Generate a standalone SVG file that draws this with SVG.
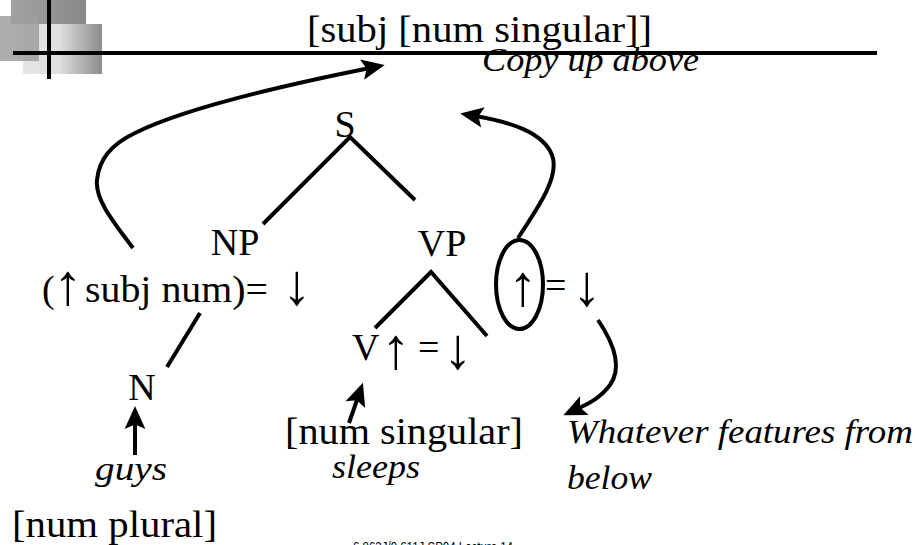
<svg xmlns="http://www.w3.org/2000/svg" width="923" height="545" viewBox="0 0 923 545">
<style>
.t{font-family:"Liberation Serif","Times New Roman",serif;font-size:38px;fill:#000}
.a{font-family:"Liberation Serif","Times New Roman",serif;font-size:58px;fill:#000;text-anchor:middle}
.i{font-family:"Liberation Serif","Times New Roman",serif;font-size:34px;font-style:italic;fill:#000}
.ln{stroke:#000;stroke-width:4;fill:none}
.ar{stroke:#000;stroke-width:4;fill:none;marker-end:url(#ah)}
.f{font-family:"Liberation Sans",Arial,sans-serif;font-size:14px;fill:#000}
</style>
<defs>
<marker id="ah" markerUnits="userSpaceOnUse" markerWidth="30" markerHeight="30" viewBox="-10 -12 26 24" refX="0" refY="0" orient="auto">
<path d="M13,0 L-7,-9 L-3,0 L-7,9 Z" fill="#000"/>
</marker>
<linearGradient id="gDark" x1="0" y1="0" x2="1" y2="0">
<stop offset="0" stop-color="#a2a2a2"/><stop offset="1" stop-color="#888"/>
</linearGradient>
<linearGradient id="gLight" x1="0" y1="0" x2="1" y2="0">
<stop offset="0" stop-color="#e4e4e4"/><stop offset="0.45" stop-color="#e0e0e0"/><stop offset="1" stop-color="#8c8c8c"/>
</linearGradient>
</defs>
<g id="logo">
<rect x="11" y="0" width="75" height="24" fill="url(#gDark)"/>
<rect x="23" y="24" width="79" height="50" fill="url(#gLight)"/>
<rect x="0" y="16" width="39" height="45" fill="#9e9e9e" fill-opacity="0.85"/>
<rect x="47" y="0" width="4" height="79" fill="#000"/>
<rect x="13" y="51" width="864" height="4" fill="#000"/>
</g>
<g id="title"><text class="t" x="307" y="42" font-size="40" textLength="345" lengthAdjust="spacingAndGlyphs">[subj [num singular]]</text></g>
<g id="copy"><text class="i" x="482" y="71" textLength="217" lengthAdjust="spacingAndGlyphs">Copy up above</text></g>
<g id="S"><text class="t" x="345" y="137" text-anchor="middle">S</text></g>
<g id="NP"><text class="t" x="235" y="255" text-anchor="middle">NP</text></g>
<g id="VP"><text class="t" x="442" y="256" text-anchor="middle">VP</text></g>
<g id="NPeq">
<text class="t" x="42" y="302">(</text>
<text class="a" x="68" y="304">↑</text>
<text class="t" x="85" y="302" textLength="183" lengthAdjust="spacingAndGlyphs">subj num)=</text>
<text class="a" x="297" y="304">↓</text>
</g>
<g id="V">
<text class="t" x="352" y="360">V</text>
<text class="a" x="396" y="368">↑</text>
<text class="t" x="418" y="360">=</text>
<text class="a" x="458" y="368">↓</text>
</g>
<g id="VPeq">
<ellipse cx="519.5" cy="284.5" rx="23.5" ry="44.5" class="ln"/>
<text class="a" x="523" y="305">↑</text>
<text class="t" x="545" y="298">=</text>
<text class="a" x="587" y="305">↓</text>
</g>
<g id="N"><text class="t" x="142" y="400" text-anchor="middle">N</text></g>
<g id="guys"><text class="i" x="95" y="480" font-size="36" textLength="72" lengthAdjust="spacingAndGlyphs">guys</text></g>
<g id="plural"><text class="t" x="12" y="537" textLength="205" lengthAdjust="spacingAndGlyphs">[num plural]</text></g>
<g id="singular"><text class="t" x="285" y="444" textLength="238" lengthAdjust="spacingAndGlyphs">[num singular]</text></g>
<g id="sleeps"><text class="i" x="332" y="478" textLength="88" lengthAdjust="spacingAndGlyphs">sleeps</text></g>
<g id="whatever">
<text class="i" x="567" y="443" textLength="346" lengthAdjust="spacingAndGlyphs">Whatever features from</text>
<text class="i" x="567" y="489" textLength="85" lengthAdjust="spacingAndGlyphs">below</text>
</g>
<g id="footer"><text class="f" x="353" y="552" textLength="160" lengthAdjust="spacingAndGlyphs">6.863J/9.611J SP04 Lecture 14</text></g>
<g id="connectors">
<path class="ln" d="M263,224 L350,137 L415,200"/>
<path class="ln" d="M375,328 L431,272 L487,336"/>
<path class="ln" d="M200,313 L167,367"/>
<path class="ar" d="M135,455 L135,421"/>
<path class="ar" d="M349,423 L358,397"/>
<path class="ar" d="M133,248 C110,218 95,198 97,180 C99,160 110,145 135,133 C175,113 260,90 370,68"/>
<path class="ar" d="M518,238 C540,205 560,175 552,155 C543,132 510,122 475,116"/>
<path class="ar" d="M598,320 C615,345 622,368 610,385 C600,398 590,403 577,409"/>
</g>
</svg>
